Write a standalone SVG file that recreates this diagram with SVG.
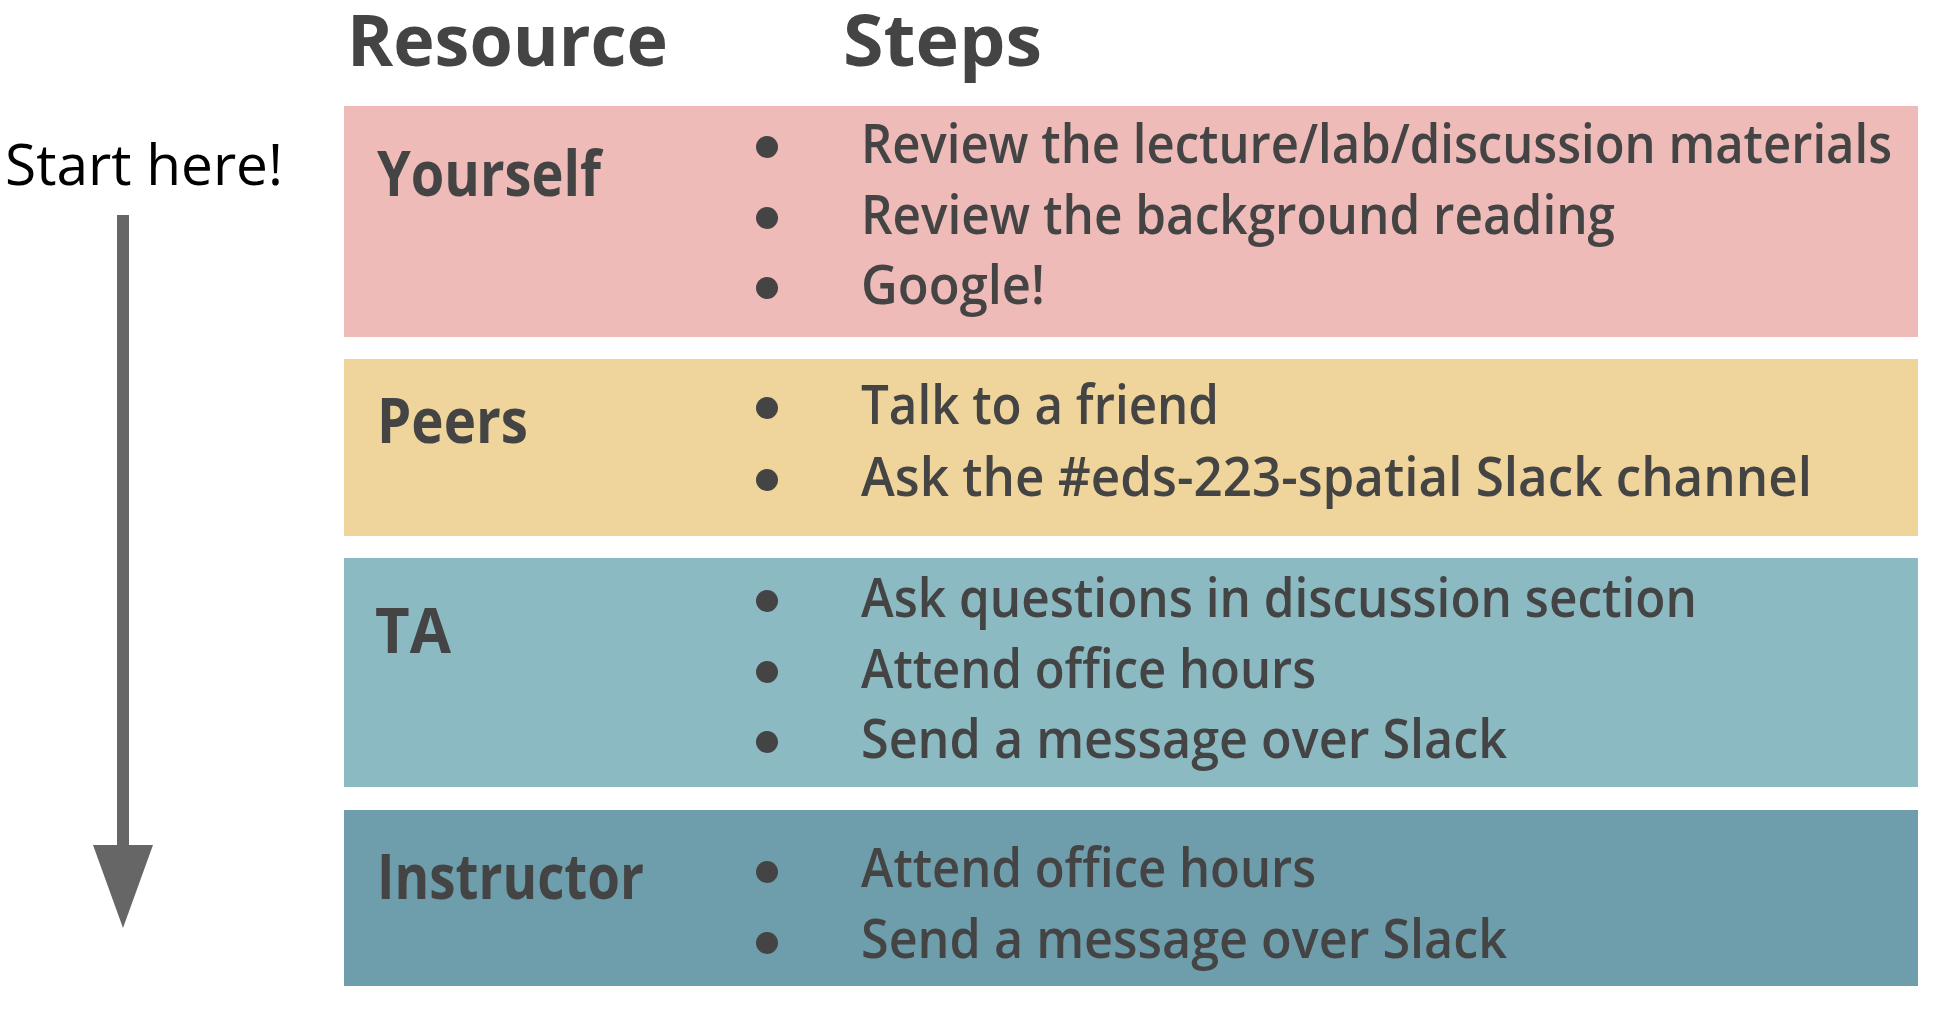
<svg xmlns="http://www.w3.org/2000/svg" width="1940" height="1010" viewBox="0 0 1940 1010">
<style>
.hdr{font-family:"Open Sans","Noto Sans",sans-serif;font-weight:700;font-size:72px;fill:#444}
.lbl{font-family:"Open Sans","Noto Sans",sans-serif;font-weight:700;font-size:62px;fill:#444}
.step{font-family:"Open Sans","Noto Sans",sans-serif;font-weight:600;font-size:55px;fill:#444}
.start{font-family:"Open Sans","Noto Sans",sans-serif;font-weight:400;font-size:57px;fill:#000}
.dot{fill:#444}
</style>
<rect width="1940" height="1010" fill="#fff"/>
<g id="headers">
<text class="hdr" x="347" y="66" textLength="321" lengthAdjust="spacingAndGlyphs">Resource</text>
<text class="hdr" x="843" y="66" textLength="199" lengthAdjust="spacingAndGlyphs">Steps</text>
</g>
<g id="start">
<text class="start" x="5" y="185" textLength="278" lengthAdjust="spacingAndGlyphs">Start here!</text>
</g>
<g id="connectors">
<rect x="117" y="215" width="12" height="632" fill="#666"/>
<polygon points="93,845 153,845 123,928" fill="#666"/>
</g>
<g id="yourself">
<rect x="344" y="106" width="1574" height="231" fill="#EFBBB8"/>
<text class="lbl" x="377" y="196" textLength="224" lengthAdjust="spacingAndGlyphs">Yourself</text>
<circle class="dot" cx="767" cy="147" r="11"/>
<circle class="dot" cx="767" cy="218" r="11"/>
<circle class="dot" cx="767" cy="288" r="11"/>
<text class="step" x="861" y="163" textLength="1031" lengthAdjust="spacingAndGlyphs">Review the lecture/lab/discussion materials</text>
<text class="step" x="861" y="234" textLength="754" lengthAdjust="spacingAndGlyphs">Review the background reading</text>
<text class="step" x="861" y="304" textLength="184" lengthAdjust="spacingAndGlyphs">Google!</text>
</g>
<g id="peers">
<rect x="344" y="359" width="1574" height="177" fill="#EFD59B"/>
<text class="lbl" x="377" y="443" textLength="151" lengthAdjust="spacingAndGlyphs">Peers</text>
<circle class="dot" cx="767" cy="408" r="11"/>
<circle class="dot" cx="767" cy="480" r="11"/>
<text class="step" x="861" y="424" textLength="358" lengthAdjust="spacingAndGlyphs">Talk to a friend</text>
<text class="step" x="861" y="496" textLength="951" lengthAdjust="spacingAndGlyphs">Ask the #eds-223-spatial Slack channel</text>
</g>
<g id="ta">
<rect x="344" y="558" width="1574" height="229" fill="#8BBAC2"/>
<text class="lbl" x="375" y="653" textLength="76" lengthAdjust="spacingAndGlyphs">TA</text>
<circle class="dot" cx="767" cy="601" r="11"/>
<circle class="dot" cx="767" cy="672" r="11"/>
<circle class="dot" cx="767" cy="742" r="11"/>
<text class="step" x="861" y="617" textLength="836" lengthAdjust="spacingAndGlyphs">Ask questions in discussion section</text>
<text class="step" x="861" y="688" textLength="455" lengthAdjust="spacingAndGlyphs">Attend office hours</text>
<text class="step" x="861" y="758" textLength="646" lengthAdjust="spacingAndGlyphs">Send a message over Slack</text>
</g>
<g id="instructor">
<rect x="344" y="810" width="1574" height="176" fill="#6E9DAC"/>
<text class="lbl" x="377" y="899" textLength="267" lengthAdjust="spacingAndGlyphs">Instructor</text>
<circle class="dot" cx="767" cy="872" r="11"/>
<circle class="dot" cx="767" cy="943" r="11"/>
<text class="step" x="861" y="887" textLength="455" lengthAdjust="spacingAndGlyphs">Attend office hours</text>
<text class="step" x="861" y="958" textLength="646" lengthAdjust="spacingAndGlyphs">Send a message over Slack</text>
</g>
</svg>
